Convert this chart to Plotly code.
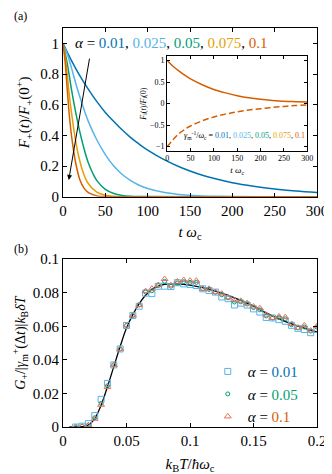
import plotly.graph_objects as go

# ---- panel (a): decay curves F+(t)/F+(0+) ----
alphas = ["0.01", "0.025", "0.05", "0.075", "0.1"]
colors = ["#0072B2", "#56B4E9", "#009E73", "#E69F00", "#D55E00"]

t_a001 = [0, 10, 20, 30, 40, 50, 60, 70, 80, 90, 100, 120, 140, 160, 180, 200, 225, 250, 275, 300]
f_a001 = [1, 0.888, 0.788, 0.70, 0.62, 0.55, 0.49, 0.435, 0.386, 0.343, 0.304, 0.24, 0.189, 0.149,
          0.117, 0.092, 0.069, 0.051, 0.038, 0.028]

t_a0025 = [0, 5, 10, 15, 20, 25, 30, 40, 50, 60, 70, 80, 90, 100, 120, 140, 160, 180, 200, 250, 300]
f_a0025 = [1, 0.93, 0.84, 0.74, 0.65, 0.565, 0.49, 0.37, 0.275, 0.20, 0.145, 0.105, 0.075, 0.054,
           0.028, 0.014, 0.007, 0.0035, 0.002, 0.0005, 0]

t_a005 = [0, 5, 10, 15, 20, 25, 30, 35, 40, 50, 60, 70, 80, 100, 150, 300]
f_a005 = [1, 0.87, 0.70, 0.55, 0.42, 0.31, 0.22, 0.155, 0.105, 0.048, 0.021, 0.009, 0.004, 0.001, 0, 0]

t_a0075 = [0, 2.5, 5, 7.5, 10, 15, 20, 25, 30, 40, 50, 60, 80, 150, 300]
f_a0075 = [1, 0.92, 0.80, 0.66, 0.55, 0.36, 0.23, 0.14, 0.085, 0.03, 0.01, 0.003, 0, 0, 0]

t_a01 = [0, 2.5, 5, 7.5, 10, 15, 20, 25, 30, 40, 50, 60, 150, 300]
f_a01 = [1, 0.88, 0.70, 0.53, 0.40, 0.22, 0.11, 0.055, 0.027, 0.006, 0.001, 0, 0, 0]

curves_t = [t_a001, t_a0025, t_a005, t_a0075, t_a01]
curves_f = [f_a001, f_a0025, f_a005, f_a0075, f_a01]

# inset: F_i(t)/F_i(0)
t_inset = [0, 12.5, 25, 37.5, 50, 75, 100, 125, 150, 175, 200, 225, 250, 275, 300]
f_inset_solid = [1, 0.87, 0.76, 0.66, 0.575, 0.44, 0.33, 0.25, 0.185, 0.135, 0.10, 0.075, 0.055, 0.045, 0.035]
f_inset_dash = [-1, -0.84, -0.70, -0.60, -0.52, -0.40, -0.31, -0.245, -0.19, -0.15, -0.12, -0.09, -0.065, -0.045, -0.03]

# ---- panel (b): G+ vs temperature ----
kT = [0.01, 0.015, 0.02, 0.025, 0.03, 0.035, 0.04, 0.045, 0.05, 0.055, 0.06, 0.065, 0.07,
      0.075, 0.08, 0.085, 0.09, 0.095, 0.1, 0.105, 0.11, 0.115, 0.12, 0.125, 0.13, 0.135,
      0.14, 0.145, 0.15, 0.155, 0.16, 0.165, 0.17, 0.175, 0.18, 0.185, 0.19, 0.195, 0.2]
g_sq = [0, 0.0005, 0.002, 0.0068, 0.0165, 0.026, 0.037, 0.0465, 0.0605, 0.0665, 0.072, 0.0798,
        0.0795, 0.0839, 0.0839, 0.0837, 0.086, 0.0853, 0.0849, 0.0843, 0.0824, 0.0814, 0.0804,
        0.0775, 0.0765, 0.0727, 0.0738, 0.0727, 0.0704, 0.0685, 0.0653, 0.065, 0.064, 0.063,
        0.0606, 0.0588, 0.0581, 0.0562, 0.0581]
g_ci = [0, 0.0004, 0.0012, 0.0055, 0.014, 0.0245, 0.037, 0.0465, 0.0605, 0.0665, 0.0727, 0.0805,
        0.0812, 0.0843, 0.0868, 0.0839, 0.0858, 0.0866, 0.0862, 0.0862, 0.0824, 0.0820, 0.0804,
        0.0788, 0.077, 0.0745, 0.0746, 0.0733, 0.0712, 0.0698, 0.0662, 0.065, 0.0652, 0.0645,
        0.061, 0.0591, 0.0596, 0.0572, 0.0595]
g_tr = [0, 0.0003, 0.001, 0.0049, 0.0132, 0.0238, 0.037, 0.0465, 0.0605, 0.0665, 0.0727, 0.081,
        0.0824, 0.0846, 0.0882, 0.0845, 0.0866, 0.0876, 0.0872, 0.0872, 0.0824, 0.0824, 0.0804,
        0.0795, 0.0773, 0.0757, 0.0752, 0.0738, 0.0718, 0.0708, 0.0669, 0.065, 0.0659, 0.0655,
        0.0614, 0.0591, 0.0606, 0.0575, 0.0601]

kT_theory = [0.005, 0.01, 0.015, 0.02, 0.025, 0.03, 0.035, 0.04, 0.045, 0.05, 0.055, 0.06, 0.065,
             0.07, 0.075, 0.08, 0.085, 0.09, 0.095, 0.1, 0.11, 0.12, 0.13, 0.14, 0.15, 0.16,
             0.17, 0.18, 0.19, 0.2]
g_theory = [0, 0, 0.0002, 0.0012, 0.005, 0.013, 0.024, 0.036, 0.048, 0.059, 0.067, 0.0735, 0.0785,
            0.082, 0.084, 0.085, 0.0853, 0.0853, 0.085, 0.0845, 0.083, 0.081, 0.0785, 0.0755,
            0.072, 0.068, 0.0645, 0.0615, 0.059, 0.0567]

serif = "Liberation Serif, Times New Roman, DejaVu Serif, serif"

fig = go.Figure()

for a, c, tt, ff in zip(alphas, colors, curves_t, curves_f):
    fig.add_trace(go.Scatter(x=tt, y=ff, mode="lines", line=dict(color=c, width=1.5, shape="spline"),
                             showlegend=False, xaxis="x", yaxis="y"))

fig.add_trace(go.Scatter(x=t_inset, y=f_inset_solid, mode="lines", showlegend=False,
                         line=dict(color="#D55E00", width=1.5, shape="spline"), xaxis="x3", yaxis="y3"))
fig.add_trace(go.Scatter(x=t_inset, y=f_inset_dash, mode="lines", showlegend=False,
                         line=dict(color="#D55E00", width=1.5, dash="6px,3px", shape="spline"),
                         xaxis="x3", yaxis="y3"))

fig.add_trace(go.Scatter(x=kT_theory, y=g_theory, mode="lines", showlegend=False,
                         line=dict(color="black", width=1.3, shape="spline"), xaxis="x2", yaxis="y2"))
fig.add_trace(go.Scatter(x=kT, y=g_sq, mode="markers", xaxis="x2", yaxis="y2",
                         name="<i>α</i> = <span style='color:#0072B2'>0.01</span>",
                         marker=dict(symbol="square-open", size=6, color="#56B4E9", line=dict(width=1))))
fig.add_trace(go.Scatter(x=kT, y=g_ci, mode="markers", xaxis="x2", yaxis="y2",
                         name="<i>α</i> = <span style='color:#009E73'>0.05</span>",
                         marker=dict(symbol="circle-open", size=4, color="#009E73", line=dict(width=1))))
fig.add_trace(go.Scatter(x=kT, y=g_tr, mode="markers", xaxis="x2", yaxis="y2",
                         name="<i>α</i> = <span style='color:#D55E00'>0.1</span>",
                         marker=dict(symbol="triangle-up-open", size=6, color="#E8705A", line=dict(width=1))))

axis_common = dict(showline=True, linecolor="black", linewidth=1, mirror="allticks", ticks="inside",
                   ticklen=4, tickcolor="black", showgrid=False, zeroline=False,
                   tickfont=dict(family=serif, size=15, color="black"))
inset_common = dict(axis_common, ticklen=3, tickfont=dict(family=serif, size=8, color="black"))

alpha_label = "<i>α</i> = " + ", ".join(
    "<span style='color:%s'>%s</span>" % (c, a) for a, c in zip(alphas, colors))
inset_label = "<i>γ</i><sub>m</sub><sup>-1</sup>/<i>ω</i><sub>c</sub> = " + ", ".join(
    "<span style='color:%s'>%s</span>" % (c, a) for a, c in zip(alphas, colors))

fig.update_layout(
    width=332, height=474,
    margin=dict(l=54, r=12, t=16, b=49),
    plot_bgcolor="white", paper_bgcolor="white",
    font=dict(family=serif, size=14, color="black"),
    xaxis=dict(axis_common, domain=[0, 1], range=[0, 300], dtick=50, anchor="y",
               title=dict(text="<i>t ω</i><sub>c</sub>", font=dict(family=serif, size=15), standoff=8)),
    yaxis=dict(axis_common, domain=[0.577, 1], range=[0, 1.1], dtick=0.2, anchor="x",
               title=dict(text="<i>F</i><sub>+</sub>(<i>t</i>)/<i>F</i><sub>+</sub>(0<sup>+</sup>)",
                          font=dict(family=serif, size=15), standoff=6)),
    xaxis2=dict(axis_common, domain=[0, 1], range=[0, 0.2], dtick=0.05, anchor="y2",
                title=dict(text="<i>k</i><sub>B</sub><i>T</i>/<i>ħω</i><sub>c</sub>",
                           font=dict(family=serif, size=15), standoff=10)),
    yaxis2=dict(axis_common, domain=[0, 0.4205], range=[0, 0.1], dtick=0.02, anchor="x2",
                title=dict(text="<i>G</i><sub>+</sub>/|<i>γ</i><sub>m</sub><sup>+</sup>(Δ<i>t</i>)|"
                                "<i>k</i><sub>B</sub><i>δT</i>",
                           font=dict(family=serif, size=14), standoff=3)),
    xaxis3=dict(inset_common, domain=[0.41, 0.962], range=[0, 300], dtick=50, anchor="y3",
                title=dict(text="<i>t ω</i><sub>c</sub>", font=dict(family=serif, size=9), standoff=4)),
    yaxis3=dict(inset_common, domain=[0.692, 0.929], range=[-1.1, 1.1], dtick=0.5, anchor="x3",
                title=dict(text="<i>F</i><sub>i</sub>(<i>t</i>)/<i>F</i><sub>i</sub>(0)",
                           font=dict(family=serif, size=8), standoff=2)),
    legend=dict(x=0.57, y=0.18, xanchor="left", yanchor="top", bgcolor="rgba(0,0,0,0)",
                font=dict(family=serif, size=15), tracegroupgap=0, itemwidth=30),
    annotations=[
        dict(text="(a)", xref="paper", yref="paper", x=-0.2, y=1.03, showarrow=False,
             xanchor="left", yanchor="middle", font=dict(family=serif, size=12)),
        dict(text="(b)", xref="paper", yref="paper", x=-0.2, y=0.447, showarrow=False,
             xanchor="left", yanchor="middle", font=dict(family=serif, size=12)),
        dict(text=alpha_label, xref="x", yref="y", x=12, y=1.0, showarrow=False,
             xanchor="left", yanchor="middle", font=dict(family=serif, size=15)),
        dict(text=inset_label, xref="x3", yref="y3", x=300, y=-0.75, showarrow=False,
             xanchor="right", yanchor="middle", font=dict(family=serif, size=8)),
        dict(text="", xref="x", yref="y", x=6.8, y=0.11, ax=31.6, ay=0.91, axref="x", ayref="y",
             showarrow=True, arrowhead=2, arrowsize=1, arrowwidth=1, arrowcolor="black"),
    ],
)

fig.write_html("out.html")
